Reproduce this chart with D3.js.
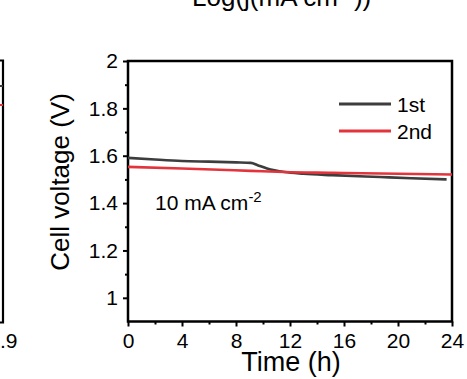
<!DOCTYPE html>
<html><head><meta charset="utf-8">
<script src="https://cdn.jsdelivr.net/npm/d3@7"></script>
<style>
html,body{margin:0;padding:0;background:#fff;}
svg{display:block;}
text{font-family:"Liberation Sans",Arial,sans-serif;fill:#000;}
</style></head>
<body>
<svg id="c" width="467" height="379"></svg>
<script>
// ---- data ----
const time1 = [0, 2, 4, 6, 8, 9.1, 9.6, 10.3, 11.6, 13, 15.1, 18.7, 21, 23.6];
const volt1 = [1.591, 1.584, 1.578, 1.575, 1.572, 1.570, 1.560, 1.546, 1.531, 1.524, 1.518, 1.510, 1.505, 1.500];
const time2 = [0, 4, 9.1, 11.6, 15.1, 18.7, 24];
const volt2 = [1.553, 1.546, 1.536, 1.531, 1.528, 1.525, 1.521];
const seriesNames = ["1st", "2nd"];
const xTicks = [0, 4, 8, 12, 16, 20, 24];
const yTicks = [1, 1.2, 1.4, 1.6, 1.8, 2];
const xMinor = [2, 6, 10, 14, 18, 22];
const yMinor = [1.1, 1.3, 1.5, 1.7, 1.9];

const colors = ["#3d3d3d", "#e3343c"];
const svg = d3.select("#c");
const L = 128, R = 452, T = 61, B = 321.5;
const x = d3.scaleLinear().domain([0, 24]).range([L, R]);
const y = d3.scaleLinear().domain([0.9, 2]).range([B, T]);

// partial left panel (cropped neighbour)
svg.append("path").attr("d", "M0,60.5 H3 V322.5 H0").attr("fill", "none").attr("stroke", "#000").attr("stroke-width", 2.2);
svg.append("line").attr("x1", 0).attr("x2", 3).attr("y1", 86).attr("y2", 86).attr("stroke", colors[0]).attr("stroke-width", 2);
svg.append("line").attr("x1", 0).attr("x2", 3).attr("y1", 105).attr("y2", 105).attr("stroke", colors[1]).attr("stroke-width", 2);
svg.append("text").attr("x", 0).attr("y", 348).attr("font-size", 21).text(".9");

// cropped title of panel above
const topTitle = svg.append("text").attr("x", 192).attr("y", 6).attr("font-size", 26);
topTitle.append("tspan").text("Log(j(mA cm");
topTitle.append("tspan").attr("font-size", 18).attr("dy", -10).text("-2");
topTitle.append("tspan").attr("dy", 10).text("))");

// axes
const gx = svg.append("g").attr("transform", `translate(0,${B})`)
  .call(d3.axisBottom(x).tickValues(xTicks).tickSize(5).tickPadding(6).tickFormat(d3.format("d")));
const gxm = svg.append("g").attr("transform", `translate(0,${B})`)
  .call(d3.axisBottom(x).tickValues(xMinor).tickSize(3).tickFormat(""));
const gy = svg.append("g").attr("transform", `translate(${L},0)`)
  .call(d3.axisLeft(y).tickValues(yTicks).tickSize(5).tickPadding(5).tickFormat(d => d3.format("~g")(d)));
const gym = svg.append("g").attr("transform", `translate(${L},0)`)
  .call(d3.axisLeft(y).tickValues(yMinor).tickSize(3).tickFormat(""));
[gx, gxm, gy, gym].forEach(g => {
  g.select(".domain").remove();
  g.selectAll(".tick line").attr("stroke", "#000").attr("stroke-width", 2);
  g.selectAll("text").attr("font-size", 21).attr("fill", "#000").attr("font-family", '"Liberation Sans",Arial,sans-serif');
});
gx.selectAll("text").attr("dy", "0.75em");

// frame
svg.append("rect").attr("x", L).attr("y", T).attr("width", R - L).attr("height", B - T)
  .attr("fill", "none").attr("stroke", "#000").attr("stroke-width", 2.5);

// lines
const line = d3.line().x(d => x(d[0])).y(d => y(d[1])).curve(d3.curveMonotoneX);
const data1 = time1.map((t, i) => [t, volt1[i]]);
const data2 = time2.map((t, i) => [t, volt2[i]]);
svg.append("path").datum(data1).attr("d", line).attr("fill", "none").attr("stroke", colors[0]).attr("stroke-width", 2.6);
svg.append("path").datum(data2).attr("d", line).attr("fill", "none").attr("stroke", colors[1]).attr("stroke-width", 2.6);

// legend
const legY = [104, 131];
seriesNames.forEach((n, i) => {
  svg.append("line").attr("x1", 339).attr("x2", 391).attr("y1", legY[i]).attr("y2", legY[i])
    .attr("stroke", colors[i]).attr("stroke-width", 3);
  svg.append("text").attr("x", 397).attr("y", legY[i] + 7.5).attr("font-size", 21).text(n);
});

// annotation
const ann = svg.append("text").attr("x", 155).attr("y", 210).attr("font-size", 21);
ann.append("tspan").text("10 mA cm");
ann.append("tspan").attr("font-size", 15).attr("dy", -8).text("-2");

// axis titles
svg.append("text").attr("x", 291).attr("y", 371).attr("text-anchor", "middle").attr("font-size", 27).text("Time (h)");
svg.append("text").attr("transform", "translate(69,182) rotate(-90)").attr("text-anchor", "middle").attr("font-size", 26).text("Cell voltage (V)");
</script>
</body></html>
